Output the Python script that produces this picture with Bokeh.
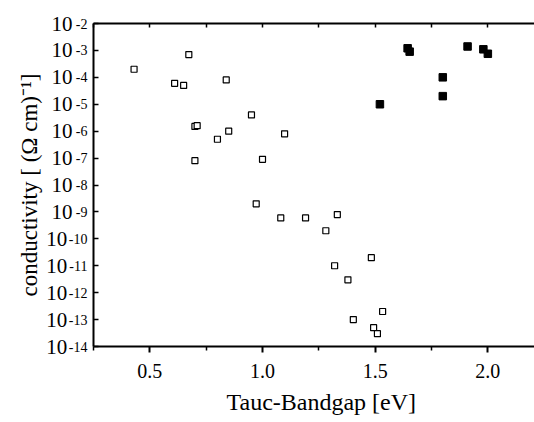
from bokeh.plotting import figure
from bokeh.models import (LinearAxis, LogAxis, FixedTicker, Range1d, NumeralTickFormatter,
                          CustomJSTickFormatter, Title)
from bokeh.embed import file_html
from bokeh.resources import INLINE

# open squares (first series)
open_x = [0.43, 0.61, 0.65, 0.673, 0.839, 0.70, 0.71, 0.70, 0.80, 0.85, 0.951, 0.972,
          1.098, 1.00, 1.081, 1.191, 1.332, 1.281, 1.483, 1.32, 1.379, 1.533, 1.403,
          1.493, 1.51]
open_y = [2e-4, 6e-5, 5e-5, 7e-4, 8e-5, 1.5e-6, 1.6e-6, 8e-8, 5e-7, 1e-6, 4e-6, 2e-9,
          8e-7, 9e-8, 6e-10, 6e-10, 8e-10, 2e-10, 2e-11, 1e-11, 3e-12, 2e-13, 1e-13,
          5e-14, 3e-14]

# filled squares (second series)
filled_x = [1.521, 1.644, 1.653, 1.80, 1.80, 1.91, 1.98, 2.00]
filled_y = [1e-5, 1.2e-3, 9e-4, 1e-4, 2e-5, 1.4e-3, 1.1e-3, 7.5e-4]

x_major = [0.5, 1.0, 1.5, 2.0]
x_minor = [0.25, 0.75, 1.25, 1.75, 2.25]
y_exponents = list(range(-2, -15, -1))

x_title = "Tauc-Bandgap [eV]"
y_title = "conductivity [ (\u03a9 cm)\u207b\u00b9]"

FONT = "Liberation Serif"
X0, X1 = 0.25, 2.207
Y0, Y1 = 1e-14, 1e-2
FRAME_LEFT = 93

p = figure(width=534, height=422, y_axis_type="log",
           x_range=Range1d(X0, X1), y_range=Range1d(Y0, Y1),
           output_backend="svg", toolbar_location=None,
           min_border_left=FRAME_LEFT, min_border_top=23, min_border_bottom=76,
           min_border_right=0)
p.outline_line_color = None
p.grid.visible = False

# bottom axis
xa = p.xaxis[0]
xa.ticker = FixedTicker(ticks=x_major, minor_ticks=x_minor)
xa.formatter = NumeralTickFormatter(format="0.0")
xa.major_label_text_font = FONT
xa.major_label_text_font_size = "20px"
xa.major_label_text_color = "black"
xa.major_label_standoff = 11
xa.major_tick_out = 6
xa.major_tick_in = 0
xa.minor_tick_out = 4
xa.minor_tick_in = 0
xa.axis_line_width = 2
xa.major_tick_line_width = 2
xa.minor_tick_line_width = 1.5
xa.axis_line_color = "black"
xa.major_tick_line_color = "black"
xa.minor_tick_line_color = "black"

tick_vals = [10.0 ** e for e in y_exponents]

# inner left axis: the axis line, ticks and the exponents
ya = p.yaxis[0]
ya.ticker = FixedTicker(ticks=tick_vals, minor_ticks=[])
ya.formatter = CustomJSTickFormatter(code="return String(Math.round(Math.log10(tick)));")
ya.major_tick_in = 5
ya.major_tick_out = 0
ya.major_tick_line_width = 1.5
ya.major_tick_line_color = "black"
ya.axis_line_width = 2
ya.axis_line_color = "black"
ya.major_label_text_font = FONT
ya.major_label_text_font_size = "14px"
ya.major_label_text_color = "black"
ya.major_label_standoff = 6

# outer left axis: the "10" mantissas and the axis title
ya2 = LogAxis(ticker=FixedTicker(ticks=tick_vals, minor_ticks=[]),
              formatter=CustomJSTickFormatter(
                  code="return Math.round(Math.log10(tick)) <= -10 ? '10\\u00a0' : '10';"),
              axis_line_color=None, major_tick_line_color=None, minor_tick_line_color=None,
              major_tick_in=0, major_tick_out=0,
              major_label_text_font=FONT, major_label_text_font_size="21px",
              major_label_text_color="black", major_label_standoff=-7,
              axis_label=y_title, axis_label_text_font=FONT,
              axis_label_text_font_size="23px", axis_label_text_font_style="normal",
              axis_label_text_color="black", axis_label_standoff=1)
p.add_layout(ya2, "left")

# top axis: ticks only
top = LinearAxis(ticker=FixedTicker(ticks=[], minor_ticks=sorted(x_major + x_minor)),
                 minor_tick_in=4, minor_tick_out=0, major_tick_out=0,
                 major_label_standoff=0, axis_line_width=2,
                 minor_tick_line_width=1.5, axis_line_color="black",
                 minor_tick_line_color="black")
p.add_layout(top, "above")

p.add_layout(Title(text=x_title, align="left", offset=226 - FRAME_LEFT,
                   text_font=FONT, text_font_size="24px", text_font_style="normal",
                   text_color="black", standoff=13), "below")

p.scatter(open_x, open_y, marker="square", size=6, fill_color="white",
          line_color="black", line_width=1.2)
p.scatter(filled_x, filled_y, marker="square", size=7.5, fill_color="black",
          line_color="black")

open("out.html", "w").write(file_html(p, INLINE))
